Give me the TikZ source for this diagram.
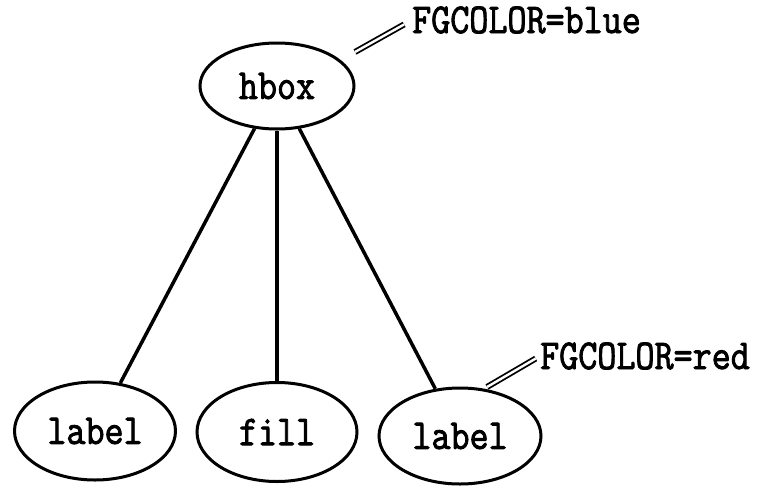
\documentclass[tikz,border=0pt]{standalone}
\usepackage{graphicx}
\usepackage{fontspec}
\usetikzlibrary{shapes.geometric}
\newfontfamily\slabmono{Latin Modern Mono}[FakeBold=2.2]
\newcommand{\tw}[1]{\scalebox{1}[1.15]{\fontsize{37}{40}\selectfont\slabmono #1}}
\tikzset{
  obj/.style={draw, ellipse, line width=3pt, inner sep=0pt},
  link/.style={line width=3.5pt},
  attr/.style={anchor=west, inner sep=0pt},
  tag/.style={double, line width=1.8pt, double distance=2.4pt}
}
\begin{document}
\begin{tikzpicture}[x=1pt, y=-1pt]
  \useasboundingbox (0,0) rectangle (763,485);
  % widget tree
  \node[obj, minimum width=154pt, minimum height=86pt] (hbox) at (277,86) {\tw{hbox}};
  \node[obj, minimum width=161pt, minimum height=98pt] (lab1) at (95,431) {\tw{label}};
  \node[obj, minimum width=160pt, minimum height=99pt] (fill) at (277,432) {\tw{fill}};
  \node[obj, minimum width=162pt, minimum height=96pt] (lab2) at (460,436) {\tw{label}};
  \draw[link] (hbox) -- (lab1);
  \draw[link] (hbox) -- (fill);
  \draw[link] (hbox) -- (lab2);
  % resource annotations
  \node[attr] (fgb) at (412,20) {\tw{FGCOLOR=blue}};
  \node[attr] (fgr) at (540,356) {\tw{FGCOLOR=red}};
  \coordinate (tb) at (355,52);
  \coordinate (tr) at (487,387);
  \draw[tag, shorten >=9pt] (tb) -- (fgb.west);
  \draw[tag, shorten >=5pt] (tr) -- (fgr.west);
\end{tikzpicture}
\end{document}
